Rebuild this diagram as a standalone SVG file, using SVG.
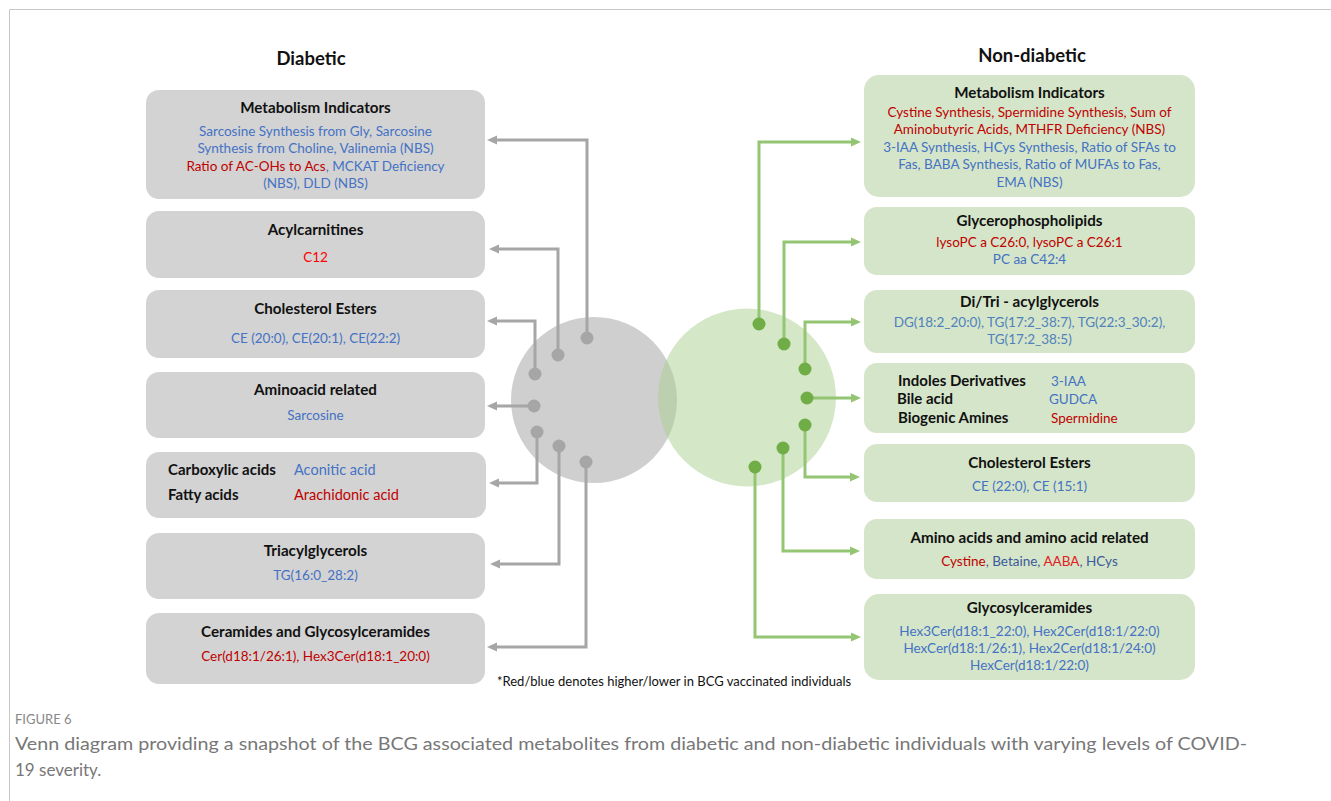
<svg xmlns="http://www.w3.org/2000/svg" width="1331" height="801" viewBox="0 0 1331 801">
<style>
text{font-family:Lato,"Open Sans","Liberation Sans",sans-serif}
.t{font-size:15.2px;font-weight:bold;fill:#111;text-anchor:middle}
.tl{font-size:15px;font-weight:bold;fill:#111}
.b{font-size:13.5px;text-anchor:middle}
.bl{font-size:13.5px}
.bl2{fill:#4472c4}
.rd{fill:#c00000}
.rb{fill:#ff0000}
.tb{fill:#4f81bd}
.db{fill:#3a5a9a}
.gbox{fill:#d3d3d3}
.nbox{fill:#d5e5c9}
.gc{fill:none;stroke:#a6a6a6;stroke-width:3}
.nc{fill:none;stroke:#93c572;stroke-width:3}
.gd{fill:#a6a6a6}
.nd{fill:#70ad47}
.head{font-size:18.5px;font-weight:bold;fill:#111;text-anchor:middle}
</style>
<defs>
<marker id="ag" viewBox="0 0 10 10" refX="4" refY="5" markerWidth="10" markerHeight="10" markerUnits="userSpaceOnUse" orient="auto"><path d="M0,0.5 L10,5 L0,9.5 z" fill="#a6a6a6"/></marker>
<marker id="an" viewBox="0 0 10 10" refX="4" refY="5" markerWidth="10" markerHeight="10" markerUnits="userSpaceOnUse" orient="auto"><path d="M0,0.5 L10,5 L0,9.5 z" fill="#93c572"/></marker>
</defs>
<rect x="0" y="0" width="1331" height="801" fill="#fff"/>
<path d="M9.5,801 V9.5 H1331" fill="none" stroke="#c8c8c8" stroke-width="1"/>

<text class="head" x="311" y="65">Diabetic</text>
<text class="head" x="1032" y="62">Non-diabetic</text>

<g id="venn">
<circle cx="594" cy="400" r="83" fill="#cfcfcf"/>
<circle cx="747" cy="397.5" r="89" fill="#a9cf8f" fill-opacity="0.5"/>
</g>

<g id="d-metab">
<rect class="gbox" x="146" y="90" width="339" height="109" rx="13"/>
<text class="t" x="315.5" y="113">Metabolism Indicators</text>
<text class="b bl2" x="315.5" y="136">Sarcosine Synthesis from Gly, Sarcosine</text>
<text class="b bl2" x="315.5" y="153">Synthesis from Choline, Valinemia (NBS)</text>
<text class="b" x="315.5" y="171"><tspan class="rd">Ratio of AC-OHs to Acs</tspan><tspan class="bl2">, MCKAT Deficiency</tspan></text>
<text class="b bl2" x="315.5" y="188">(NBS), DLD (NBS)</text>
</g>
<g id="d-acyl">
<rect class="gbox" x="146" y="211" width="339" height="67" rx="13"/>
<text class="t" x="315.5" y="235">Acylcarnitines</text>
<text class="b rb" x="315.5" y="262">C12</text>
</g>
<g id="d-ce">
<rect class="gbox" x="146" y="290" width="339" height="68" rx="13"/>
<text class="t" x="315.5" y="314">Cholesterol Esters</text>
<text class="b bl2" x="315.5" y="343">CE (20:0), CE(20:1), CE(22:2)</text>
</g>
<g id="d-amino">
<rect class="gbox" x="146" y="372" width="339" height="66" rx="13"/>
<text class="t" x="315.5" y="395">Aminoacid related</text>
<text class="b bl2" x="315.5" y="420">Sarcosine</text>
</g>
<g id="d-acids">
<rect class="gbox" x="146" y="452" width="340" height="66" rx="13"/>
<text class="tl" x="168" y="475">Carboxylic acids</text>
<text class="bl bl2" x="294" y="475" style="font-size:14.5px">Aconitic acid</text>
<text class="tl" x="168" y="500">Fatty acids</text>
<text class="bl rd" x="294" y="500" style="font-size:14.5px">Arachidonic acid</text>
</g>
<g id="d-tag">
<rect class="gbox" x="146" y="533" width="339" height="66" rx="13"/>
<text class="t" x="315.5" y="556">Triacylglycerols</text>
<text class="b bl2" x="315.5" y="580">TG(16:0_28:2)</text>
</g>
<g id="d-cer">
<rect class="gbox" x="146" y="613" width="339" height="71" rx="13"/>
<text class="t" x="315.5" y="637">Ceramides and Glycosylceramides</text>
<text class="b rd" x="315.5" y="661">Cer(d18:1/26:1), Hex3Cer(d18:1_20:0)</text>
</g>

<g id="n-metab">
<rect class="nbox" x="864" y="75" width="331" height="122" rx="15"/>
<text class="t" x="1029.5" y="98">Metabolism Indicators</text>
<text class="b rd" x="1029.5" y="117">Cystine Synthesis, Spermidine Synthesis, Sum of</text>
<text class="b rd" x="1029.5" y="134">Aminobutyric Acids, MTHFR Deficiency (NBS)</text>
<text class="b bl2" x="1029.5" y="152">3-IAA Synthesis, HCys Synthesis, Ratio of SFAs to</text>
<text class="b bl2" x="1029.5" y="169">Fas, BABA Synthesis, Ratio of MUFAs to Fas,</text>
<text class="b bl2" x="1029.5" y="187">EMA (NBS)</text>
</g>
<g id="n-gpl">
<rect class="nbox" x="864" y="207" width="331" height="68" rx="13"/>
<text class="t" x="1029.5" y="226">Glycerophospholipids</text>
<text class="b rd" x="1029.5" y="247">lysoPC a C26:0, lysoPC a C26:1</text>
<text class="b bl2" x="1029.5" y="264">PC aa C42:4</text>
</g>
<g id="n-glyc">
<rect class="nbox" x="864" y="290" width="331" height="63" rx="13"/>
<text class="t" x="1029.5" y="307">Di/Tri - acylglycerols</text>
<text class="b tb" x="1029.5" y="327">DG(18:2_20:0), TG(17:2_38:7), TG(22:3_30:2),</text>
<text class="b tb" x="1029.5" y="344">TG(17:2_38:5)</text>
</g>
<g id="n-indoles">
<rect class="nbox" x="864" y="363" width="331" height="70" rx="13"/>
<text class="tl" x="898" y="386">Indoles Derivatives</text>
<text class="bl bl2" x="1051" y="386">3-IAA</text>
<text class="tl" x="897" y="404">Bile acid</text>
<text class="bl bl2" x="1049" y="404">GUDCA</text>
<text class="tl" x="898" y="423">Biogenic Amines</text>
<text class="bl rd" x="1051" y="423">Spermidine</text>
</g>
<g id="n-ce">
<rect class="nbox" x="864" y="444" width="331" height="58" rx="13"/>
<text class="t" x="1029.5" y="468">Cholesterol Esters</text>
<text class="b bl2" x="1029.5" y="491">CE (22:0), CE (15:1)</text>
</g>
<g id="n-amino">
<rect class="nbox" x="864" y="519" width="331" height="60" rx="13"/>
<text class="t" x="1029.5" y="543">Amino acids and amino acid related</text>
<text class="b" x="1029.5" y="566"><tspan class="rd">Cystine</tspan><tspan class="db">, Betaine, </tspan><tspan fill="#e0201e">AABA</tspan><tspan class="db">, HCys</tspan></text>
</g>
<g id="n-gcer">
<rect class="nbox" x="864" y="594" width="331" height="86" rx="15"/>
<text class="t" x="1029.5" y="613">Glycosylceramides</text>
<text class="b bl2" x="1029.5" y="636">Hex3Cer(d18:1_22:0), Hex2Cer(d18:1/22:0)</text>
<text class="b bl2" x="1029.5" y="653">HexCer(d18:1/26:1), Hex2Cer(d18:1/24:0)</text>
<text class="b bl2" x="1029.5" y="670">HexCer(d18:1/22:0)</text>
</g>

<g id="connectors">
<path class="gc" marker-end="url(#ag)" d="M587,338 V140 H493"/>
<path class="gc" marker-end="url(#ag)" d="M558,355 V249 H495"/>
<path class="gc" marker-end="url(#ag)" d="M535,374 V321 H493"/>
<path class="gc" marker-end="url(#ag)" d="M534,406 H493"/>
<path class="gc" marker-end="url(#ag)" d="M537,432 V483 H495"/>
<path class="gc" marker-end="url(#ag)" d="M559,446 V564 H496"/>
<path class="gc" marker-end="url(#ag)" d="M586,462 V647 H493"/>
<circle class="gd" cx="587" cy="338" r="6.5"/>
<circle class="gd" cx="558" cy="355" r="6.5"/>
<circle class="gd" cx="535" cy="374" r="6.5"/>
<circle class="gd" cx="534" cy="406" r="6.5"/>
<circle class="gd" cx="537" cy="432" r="6.5"/>
<circle class="gd" cx="559" cy="446" r="6.5"/>
<circle class="gd" cx="586" cy="462" r="6.5"/>
<path class="nc" marker-end="url(#an)" d="M759,324 V142 H855"/>
<path class="nc" marker-end="url(#an)" d="M784,344 V242 H855"/>
<path class="nc" marker-end="url(#an)" d="M805,369 V322 H855"/>
<path class="nc" marker-end="url(#an)" d="M807,398 H855"/>
<path class="nc" marker-end="url(#an)" d="M805,425 V477 H854"/>
<path class="nc" marker-end="url(#an)" d="M783,448 V551 H854"/>
<path class="nc" marker-end="url(#an)" d="M755,467 V637 H855"/>
<circle class="nd" cx="759" cy="324" r="6.5"/>
<circle class="nd" cx="784" cy="344" r="6.5"/>
<circle class="nd" cx="805" cy="369" r="6.5"/>
<circle class="nd" cx="807" cy="398" r="6.5"/>
<circle class="nd" cx="805" cy="425" r="6.5"/>
<circle class="nd" cx="783" cy="448" r="6.5"/>
<circle class="nd" cx="755" cy="467" r="6.5"/>
</g>

<text x="497" y="686" style="font-size:13px;fill:#111">*Red/blue denotes higher/lower in BCG vaccinated individuals</text>

<text x="15" y="724" style="font-size:13px;fill:#888">FIGURE 6</text>
<text x="15" y="750" style="font-size:17px;fill:#777" textLength="1232" lengthAdjust="spacingAndGlyphs">Venn diagram providing a snapshot of the BCG associated metabolites from diabetic and non-diabetic individuals with varying levels of COVID-</text>
<text x="15" y="776" style="font-size:17px;fill:#777">19 severity.</text>
</svg>
